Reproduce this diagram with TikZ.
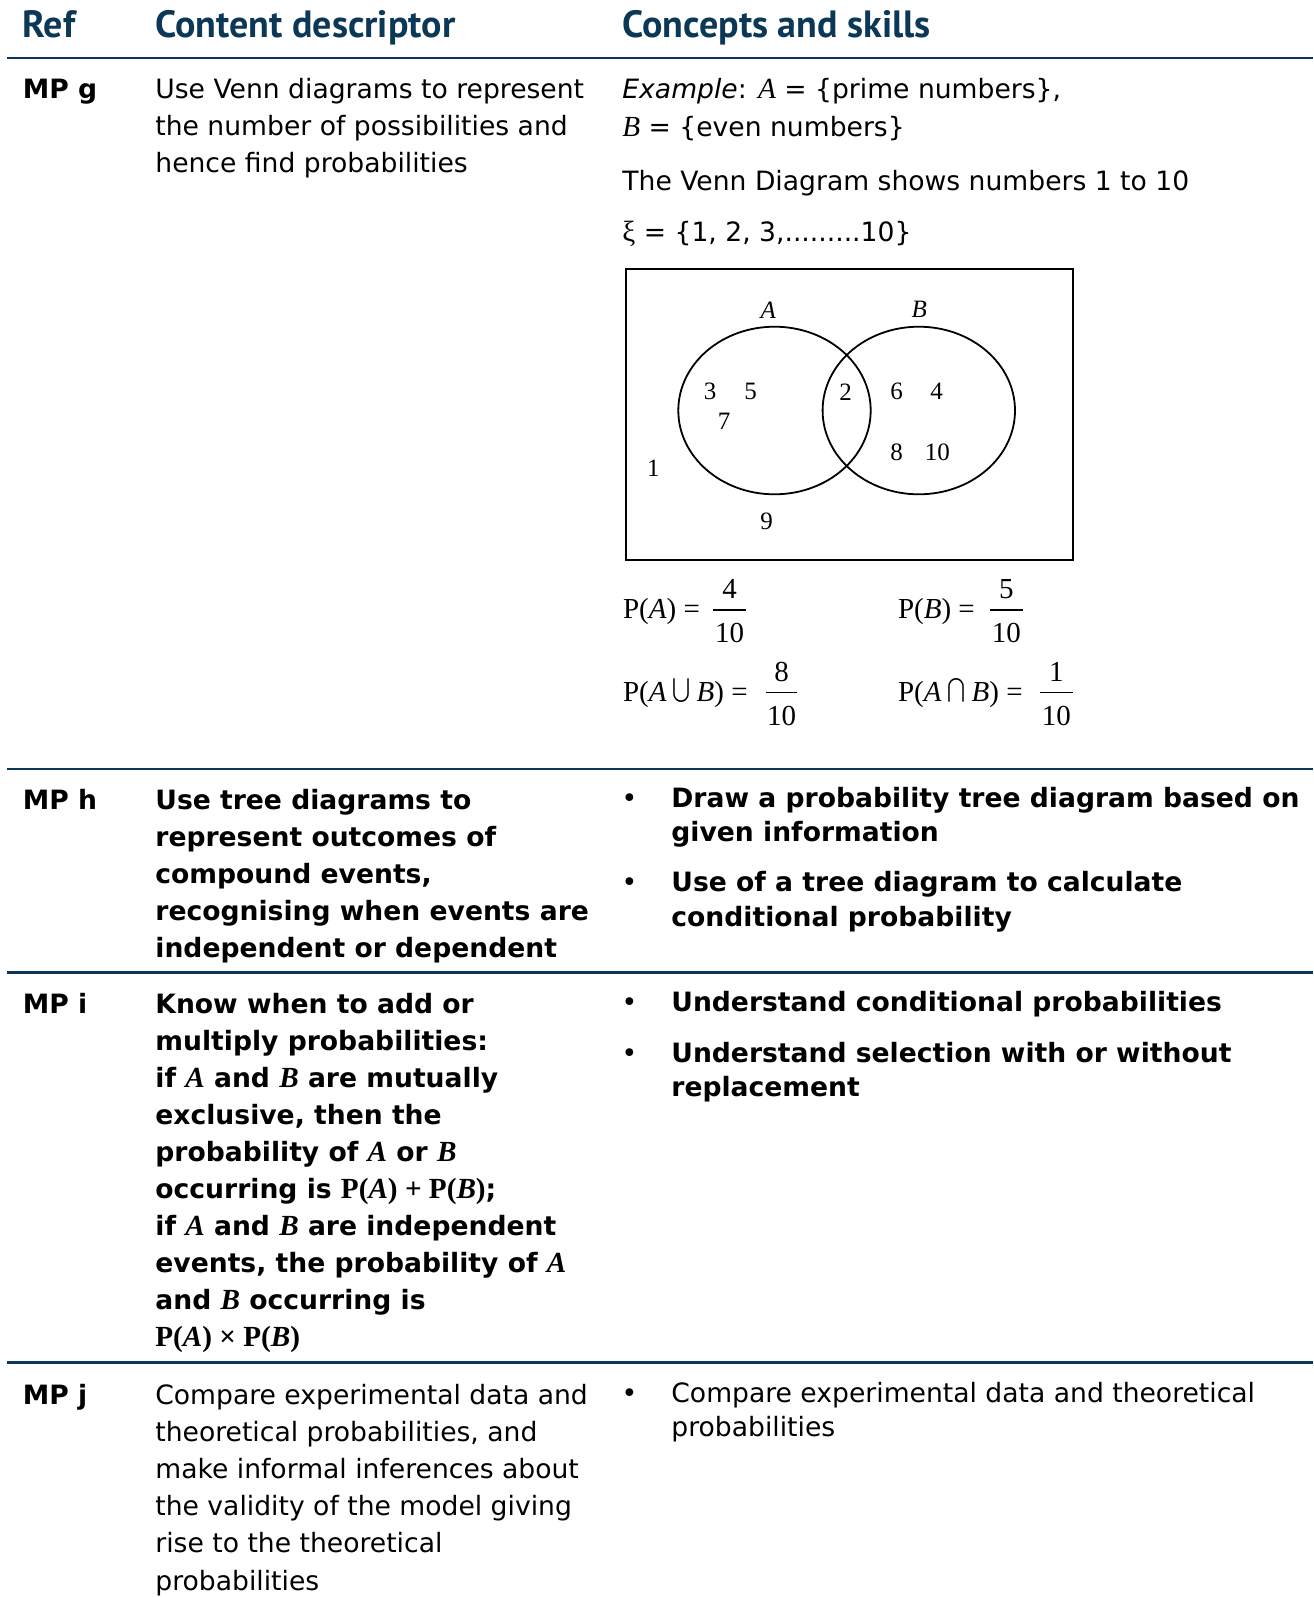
\documentclass[tikz,border=0pt]{standalone}
\usepackage{fontspec}
\usepackage{exscale}
\usetikzlibrary{shapes.geometric,calc}
\setmainfont{DejaVu Sans}
\newfontfamily\headfont{PT Sans}
\newfontfamily\tms{Liberation Serif}
\definecolor{navy}{RGB}{12,56,88}
\newcommand{\tm}[1]{{\tms\fontsize{14.6}{18.6}\selectfont #1}}
\newcommand{\bigop}[1]{\hspace{3pt}\raisebox{2.5pt}{\scalebox{0.9}[1]{\fontsize{12.5}{14}\selectfont$#1$}}\hspace{3pt}}
\begin{document}
\begin{tikzpicture}[x=0.5pt,y=-0.5pt]
  \tikzstyle{every node}=[inner sep=0pt]
  \tikzstyle{head}=[anchor=base west,text=navy,font=\headfont\bfseries\fontsize{19}{22}\selectfont]
  \tikzstyle{refcol}=[anchor=base west,font=\bfseries\fontsize{13.3}{18.6}\selectfont]
  \tikzstyle{desc}=[anchor=base west,align=left,font=\fontsize{13.3}{18.6}\selectfont]
  \tikzstyle{skill}=[anchor=base west,align=left,font=\fontsize{13.3}{17.3}\selectfont]
  \tikzstyle{bul}=[anchor=base,font=\fontsize{13.3}{17.3}\selectfont]
  \tikzstyle{rule}=[navy,line width=1.2pt]
  \tikzstyle{venn}=[font=\tms\fontsize{12.5}{14}\selectfont]
  \tikzstyle{vset}=[draw,ellipse,line width=0.9pt,minimum width=96.2pt,minimum height=83.8pt]
  \tikzstyle{fracnum}=[font=\tms\fontsize{14.5}{16}\selectfont]
  \useasboundingbox (0,0) rectangle (1313,1597);

  \node[head] (hRef) at (22.4,37) {Ref};
  \node[head] (hDesc) at (155,37) {Content descriptor};
  \node[head] (hSkill) at (622,37) {Concepts and skills};
  \foreach \y in {58,769,972.5,1362.5}
    \draw[rule] (7,\y) -- (1313,\y);

  \node[refcol] (mpg) at (22.4,98) {MP g};
  \node[desc] (gDesc) at (155,98+2*37.2) {Use Venn diagrams to represent\\the number of possibilities and\\hence find probabilities};
  \node[desc] (gEx) at (622,98) {\textit{Example}: \tm{\textit{A}} = \{prime numbers\},};
  \node[desc] (gExB) at (622,136) {\tm{\textit{B}} = \{even numbers\}};
  \node[desc] (gShow) at (622,190) {The Venn Diagram shows numbers 1 to 10};
  \node[desc] (gXi) at (622,241.7) {\tm{ξ} = \{1, 2, 3,.........10\}};

  \draw[line width=1pt] (626,269) rectangle (1072.7,560);
  \node[vset] (setA) at (774.5,410.5) {};
  \node[vset] (setB) at (918.8,410.5) {};
  \node[venn,font=\tms\itshape\fontsize{12.5}{14}\selectfont] (labA) at (768.3,310) {A};
  \node[venn,font=\tms\itshape\fontsize{12.5}{14}\selectfont] (labB) at (919.3,309.3) {B};
  \foreach \n/\x/\y in {3/710/391.7,5/750.7/391.7,7/724/421.7,2/845.7/392.7,6/896.7/391.7,
      4/936.7/391.7,8/896.7/452.3,10/937.3/452.3,1/653.3/468.3,9/766.7/521.7}
    \node[venn] (v\n) at (\x,\y) {\n};

  \foreach \lab/\lx/\bl/\br/\by/\num/\k in {
      {P(\textit{A}) =}/622.7/713.3/745.7/610/4/a,
      {P(\textit{B}) =}/897.7/990/1022.7/610/5/b,
      {P(\textit{A}\bigop{\bigcup}\textit{B}) =}/622.7/765.7/797.3/692.7/8/u,
      {P(\textit{A}\bigop{\bigcap}\textit{B}) =}/897.7/1040/1072.7/692.7/1/i}{
    \node[fracnum,anchor=base west] (p\k) at (\lx,\by+8.6) {\lab};
    \coordinate (bl\k) at (\bl,\by);
    \coordinate (br\k) at (\br,\by);
    \draw[line width=0.6pt] (bl\k) -- (br\k);
    \node[fracnum,anchor=base] (num\k) at ($(bl\k)!0.5!(br\k)+(0,-11.5)$) {\num};
    \node[fracnum,anchor=base] (den\k) at ($(bl\k)!0.5!(br\k)+(0,32.3)$) {10};
  }

  \node[refcol] (mph) at (22.4,809) {MP h};
  \node[desc,font=\bfseries\fontsize{13.3}{18.6}\selectfont] (hDescr) at (155,809+4*37.2)
    {Use tree diagrams to\\represent outcomes of\\compound events,\\recognising when events are\\independent or dependent};
  \node[bul] (hb1) at (629.5,807) {•};
  \node[skill,font=\bfseries\fontsize{13.3}{17.3}\selectfont] (hs1) at (671,807+34.6) {Draw a probability tree diagram based on\\given information};
  \node[bul] (hb2) at (629.5,891.5) {•};
  \node[skill,font=\bfseries\fontsize{13.3}{17.3}\selectfont] (hs2) at (671,891.5+34.6) {Use of a tree diagram to calculate\\conditional probability};

  \node[refcol] (mpi) at (22.4,1013) {MP i};
  \node[desc,font=\bfseries\fontsize{13.3}{18.55}\selectfont] (iDesc) at (155,1013+9*37.1)
    {Know when to add or\\multiply probabilities:\\if \tm{\textit{A}} and \tm{\textit{B}} are mutually\\exclusive, then the\\
     probability of \tm{\textit{A}} or \tm{\textit{B}}\\occurring is \tm{P(\textit{A}) + P(\textit{B})};\\
     if \tm{\textit{A}} and \tm{\textit{B}} are independent\\events, the probability of \tm{\textit{A}}\\
     and \tm{\textit{B}} occurring is\\\tm{P(\textit{A}) × P(\textit{B})}};
  \node[bul] (ib1) at (629.5,1011) {•};
  \node[skill,font=\bfseries\fontsize{13.3}{17.3}\selectfont] (is1) at (671,1011) {Understand conditional probabilities};
  \node[bul] (ib2) at (629.5,1062) {•};
  \node[skill,font=\bfseries\fontsize{13.3}{17.3}\selectfont] (is2) at (671,1062+34.6) {Understand selection with or without\\replacement};

  \node[refcol] (mpj) at (22.4,1404) {MP j};
  \node[desc] (jDesc) at (155,1404+5*37.2)
    {Compare experimental data and\\theoretical probabilities, and\\make informal inferences about\\the validity of the model giving\\rise to the theoretical\\probabilities};
  \node[bul] (jb1) at (629.5,1402) {•};
  \node[skill] (js1) at (671,1402+34.6) {Compare experimental data and theoretical\\probabilities};
\end{tikzpicture}
\end{document}
